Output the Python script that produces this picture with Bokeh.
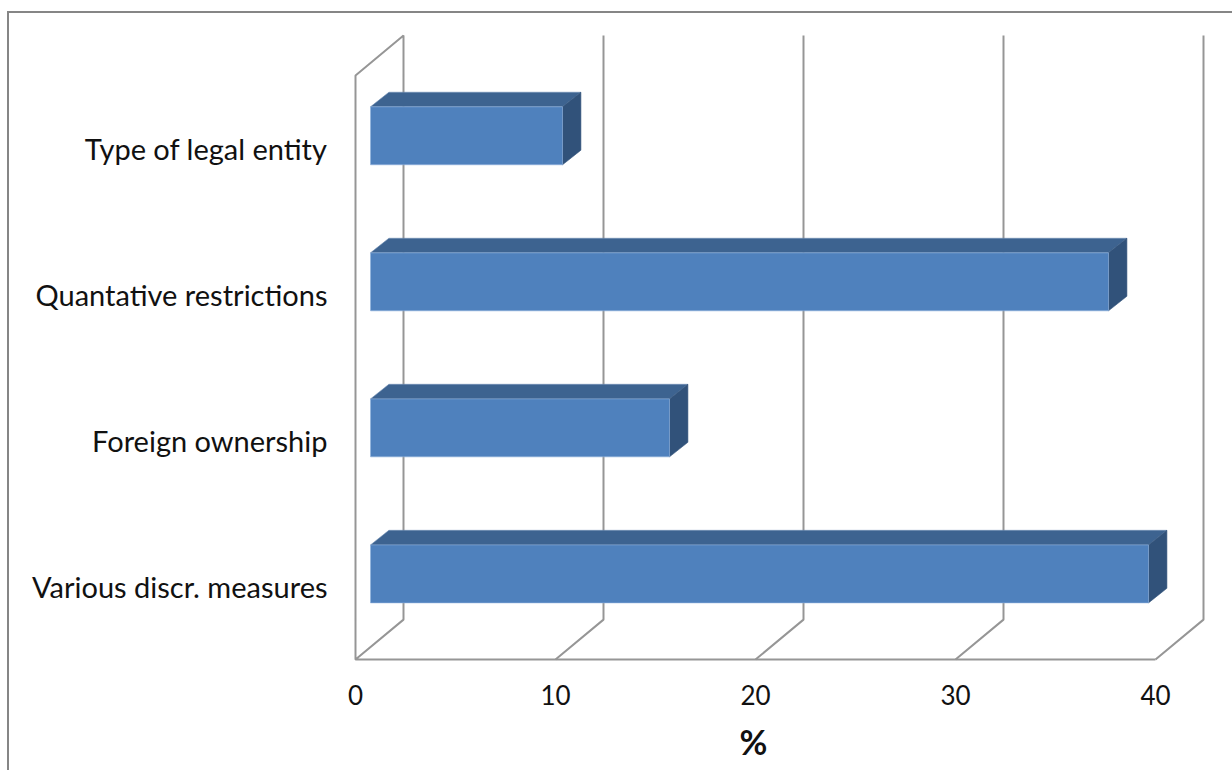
from bokeh.embed import file_html
from bokeh.resources import INLINE
from bokeh.plotting import figure
from bokeh.models import Range1d, FixedTicker, Title

categories = ["Various discr. measures", "Foreign ownership", "Quantative restrictions", "Type of legal entity"]
values = [38.9, 14.95, 36.9, 9.6]
x_ticks = [0, 10, 20, 30, 40]

# chart scale (data units)
DX, DY = 2.4, 0.2735             # wall depth
BX, BY = 0.92, 0.1               # bar depth
OFF = 0.75                       # bar start inside the floor
LOW, HIGH = -0.112, 0.285        # bar front face relative to the category centre

WALL = "#969696"
FACE, TOP, SIDE = "#4F81BD", "#3D6390", "#31527A"
FONT = "Lato"

p = figure(width=1223, height=757, output_backend="svg", toolbar_location=None,
           x_range=Range1d(-0.15, 42.6), y_range=Range1d(-0.027, 4.294),
           min_border_left=343, min_border_right=27, min_border_top=19, min_border_bottom=108,
           outline_line_color=None, background_fill_color="white", border_fill_color="white",
           margin=(11, 0, 0, 7),
           styles={"border-left": "2px solid #868686", "border-top": "2px solid #868686", "box-sizing": "content-box"})
p.grid.visible = False

# walls
n = len(categories)
xs, ys = [], []
for t in x_ticks[1:]:
    xs.append([t, t + DX, t + DX])
    ys.append([0, DY, n + DY])
xs.append([x_ticks[-1], 0, 0, DX, DX, 0])
ys.append([0, 0, n, n + DY, DY, 0])
p.multi_line(xs, ys, line_color=WALL, line_width=2)

# bars
for i, v in enumerate(values):
    lo, hi = i + 0.5 + LOW, i + 0.5 + HIGH
    x0, x1 = OFF, OFF + v
    p.patch([x0, x1, x1 + BX, x0 + BX], [hi, hi, hi + BY, hi + BY], fill_color=TOP, line_color="#6F8DB3", line_width=0.6)
    p.patch([x1, x1 + BX, x1 + BX, x1], [lo, lo + BY, hi + BY, hi], fill_color=SIDE, line_color=SIDE, line_width=0.6)
    p.patch([x0, x1, x1, x0], [lo, lo, hi, hi], fill_color=FACE, line_color="#8DB0DC", line_width=0.6)

# axes
ax = p.xaxis[0]
ax.ticker = FixedTicker(ticks=x_ticks)
ax.axis_line_color = None
ax.major_tick_line_color = None
ax.minor_tick_line_color = None
ax.major_label_standoff = 15
ax.major_label_text_font = FONT
ax.major_label_text_font_size = "26px"
ax.major_label_text_color = "#111111"

ay = p.yaxis[0]
ay.ticker = FixedTicker(ticks=[i + 0.5 for i in range(n)])
ay.major_label_overrides = {i + 0.5: c for i, c in enumerate(categories)}
ay.axis_line_color = None
ay.major_tick_line_color = None
ay.minor_tick_line_color = None
ay.major_label_standoff = 19
ay.major_label_text_font = FONT
ay.major_label_text_font_size = "29px"
ay.major_label_text_color = "#111111"

p.add_layout(Title(text="%", align="left", offset=387, standoff=22,
                   text_font=FONT, text_font_style="bold", text_font_size="34px",
                   text_color="#111111"), "below")

open("out.html", "w").write(file_html(p, INLINE))
